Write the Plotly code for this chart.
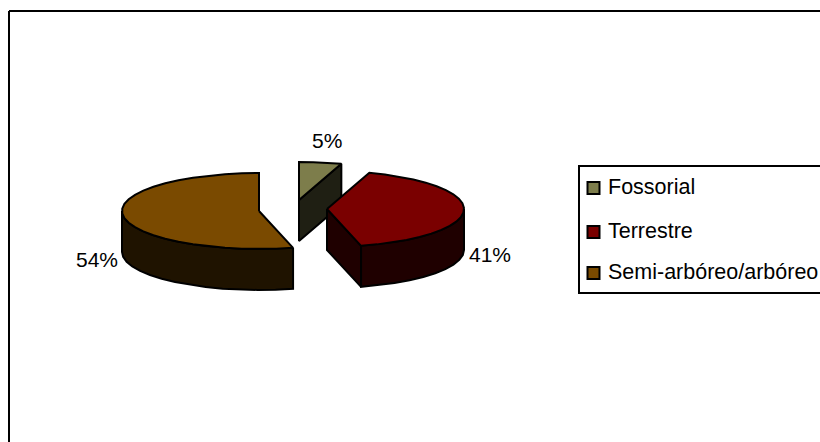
import math
import plotly.graph_objects as go

categories = ["Fossorial", "Terrestre", "Semi-arbóreo/arbóreo"]
percent_values = [5, 41, 54]
top_colors = ["#7d7d4b", "#7a0000", "#7a4a00"]
wall_colors = ["#1f1f13", "#1f0000", "#1f1300"]

# Drawing geometry (pixels in an 820x442 canvas)
RX, RY, DEPTH = 137, 38, 41
apexes = [(299, 200), (327, 209), (259, 211)]
label_xy = [(327, 140), (490, 254), (97, 259)]
swatch_y = [188, 232, 273]


def rim(apex, a0, a1, n, dy=0):
    pts = []
    for i in range(n + 1):
        a = math.radians(a0 + (a1 - a0) * i / n)
        pts.append((apex[0] + RX * math.sin(a), apex[1] - RY * math.cos(a) + dy))
    return pts


def poly(fig, pts, color):
    xs = [p[0] for p in pts] + [pts[0][0]]
    ys = [p[1] for p in pts] + [pts[0][1]]
    fig.add_trace(go.Scatter(x=xs, y=ys, mode="lines", fill="toself", fillcolor=color,
                             line=dict(color="black", width=2), hoverinfo="skip",
                             showlegend=False))


fig = go.Figure()
cum = 0
for i, v in enumerate(percent_values):
    a0 = cum * 3.6
    a1 = (cum + v) * 3.6
    cum += v
    ax = apexes[i]
    n = max(3, int((a1 - a0) / 7))
    # cut faces visible to the viewer
    if i == 0:
        end = rim(ax, a0, a1, 1)[-1]
        poly(fig, [ax, end, (end[0], end[1] + DEPTH), (ax[0], ax[1] + DEPTH)], wall_colors[i])
    if i == 1:
        end = rim(ax, a1, a1, 1)[-1]
        poly(fig, [ax, end, (end[0], end[1] + DEPTH), (ax[0], ax[1] + DEPTH)], wall_colors[i])
    # outer wall (front half of the rim only)
    f0, f1 = max(a0, 90), min(a1, 270)
    if f1 > f0:
        m = max(3, int((f1 - f0) / 7))
        upper = rim(ax, f0, f1, m)
        lower = rim(ax, f0, f1, m, DEPTH)
        poly(fig, upper + lower[::-1], wall_colors[i])
    # top surface
    poly(fig, [ax] + rim(ax, a0, a1, n), top_colors[i])

# Legend markers
fig.add_trace(go.Scatter(
    x=[593.5] * len(categories), y=swatch_y, mode="markers",
    marker=dict(symbol="square", size=12, color=top_colors, line=dict(color="black", width=2)),
    hoverinfo="skip", showlegend=False))

annotations = []
for name, y in zip(categories, swatch_y):
    annotations.append(dict(x=606, y=y - 1, text=name, showarrow=False, xanchor="left", yanchor="middle",
                            font=dict(size=21.5, color="black", family="Liberation Sans")))
for v, (x, y) in zip(percent_values, label_xy):
    annotations.append(dict(x=x, y=y, text=f"{v}%", showarrow=False, xanchor="center", yanchor="middle",
                            font=dict(size=21, color="black", family="Liberation Sans")))

line = dict(color="black", width=2)
shapes = [
    dict(type="line", x0=9, y0=11, x1=820, y1=11, line=line),
    dict(type="line", x0=9, y0=11, x1=9, y1=442, line=line),
    dict(type="rect", x0=579, y0=166, x1=830, y1=293, line=line, fillcolor="rgba(0,0,0,0)"),
]

fig.update_layout(
    width=820, height=442, margin=dict(l=0, r=0, t=0, b=0),
    paper_bgcolor="white", plot_bgcolor="white", showlegend=False,
    xaxis=dict(range=[0, 820], visible=False, fixedrange=True),
    yaxis=dict(range=[442, 0], visible=False, fixedrange=True),
    annotations=annotations, shapes=shapes,
)
fig.write_html(
    "out.html",
    config={"displayModeBar": False},
    post_script="document.body.style.margin='0';document.documentElement.style.overflow='hidden';",
)
